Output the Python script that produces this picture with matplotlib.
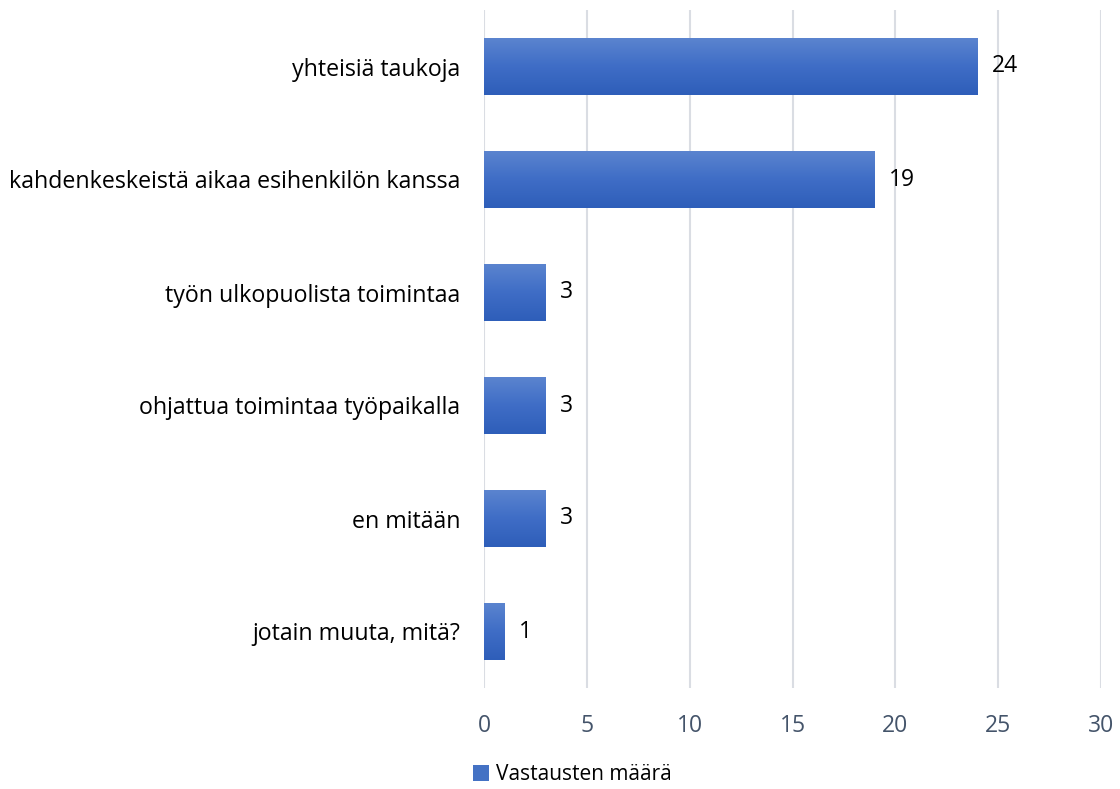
import matplotlib

matplotlib.use("Agg")
import matplotlib.pyplot as plt
import numpy as np
from matplotlib.colors import LinearSegmentedColormap
from matplotlib.patches import Patch

categories = [
    "yhteisiä taukoja",
    "kahdenkeskeistä aikaa esihenkilön kanssa",
    "työn ulkopuolista toimintaa",
    "ohjattua toimintaa työpaikalla",
    "en mitään",
    "jotain muuta, mitä?",
]
values = [24, 19, 3, 3, 3, 1]
series_name = "Vastausten määrä"
xticks = [0, 5, 10, 15, 20, 25, 30]

plt.rcParams["font.family"] = ["Open Sans", "DejaVu Sans"]

fig = plt.figure(figsize=(11.2, 7.89), dpi=100)
ax = fig.add_axes([484 / 1120, 1 - 688 / 789, (1101 - 484) / 1120, (688 - 10) / 789])

ypos = np.arange(len(categories))
bars = ax.barh(ypos, values, height=0.5, color="#4472C4", zorder=2)

# vertical gradient inside each bar
cmap = LinearSegmentedColormap.from_list("bar", ["#5B84CF", "#3F6DC6", "#2E5EB9"])
grad = np.linspace(0, 1, 256).reshape(-1, 1)
for b, v in zip(bars, values):
    x0, y0 = b.get_x(), b.get_y()
    w, h = b.get_width(), b.get_height()
    im = ax.imshow(grad, cmap=cmap, aspect="auto", extent=[x0, x0 + w, y0 + h, y0],
                   origin="upper", zorder=3)
    im.set_clip_path(b)
    ax.text(x0 + w + 0.7, y0 + h / 2, str(v),
            va="center", ha="left", fontsize=16.5, color="black")

ax.set_xlim(0, 30)
ax.set_ylim(len(categories) - 0.5, -0.5)
ax.set_xticks(xticks)
ax.set_yticks(ypos)
ax.set_yticklabels(categories, fontsize=16.7, color="black")
ax.tick_params(axis="x", colors="#44546A", labelsize=16.5, length=0, pad=19)
ax.tick_params(axis="y", length=0, pad=17)
ax.grid(axis="x", color="#DADDE3", linewidth=1.5, zorder=0)
for s in ax.spines.values():
    s.set_visible(False)

fig.legend(handles=[Patch(facecolor="#4472C4", label=series_name)],
           loc="center", bbox_to_anchor=(572 / 1120, 1 - 775 / 789),
           frameon=False, fontsize=15, handlelength=0.8, handleheight=0.8,
           handletextpad=0.3)

fig.savefig("out.png", dpi=100)
